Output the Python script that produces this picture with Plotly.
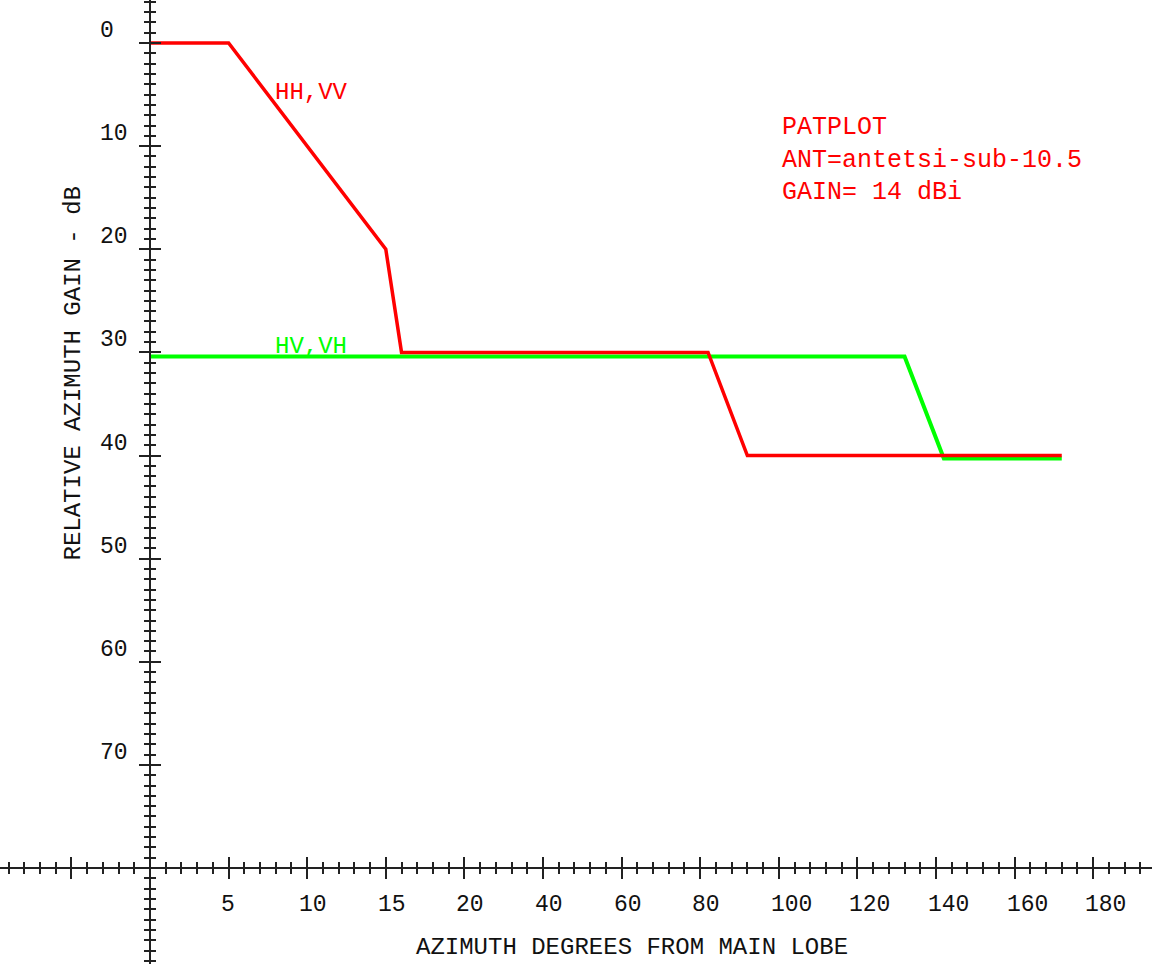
import plotly.graph_objects as go

# ---- data (degrees from main lobe, relative gain in dB) ----
hh_deg = [0, 5, 15, 16, 82, 92, 172]
hh_db = [0, 0, 20, 30, 30, 40, 40]
hv_deg = [0, 132, 142, 172]
hv_db = [30.4, 30.4, 40.3, 40.3]
x_tick_labels = [5, 10, 15, 20, 40, 60, 80, 100, 120, 140, 160, 180]
y_tick_labels = [0, 10, 20, 30, 40, 50, 60, 70]
info_lines = ["PATPLOT", "ANT=antetsi-sub-10.5", "GAIN= 14 dBi"]

W, H = 1152, 964
FONT = "Liberation Mono"
AX = "#222222"


def pos(deg):
    """Piecewise azimuth scale: 0-20 deg in steps of 5, then 20-180 in steps of 20."""
    return deg / 5.0 if deg <= 20 else 4 + (deg - 20) / 20.0


# pixel geometry of the reference
X0_PX, UNIT_PX = 150, 78.6
Y0_PX, DB_PX = 43, 10.3125
x_range = [-X0_PX / UNIT_PX, (W - X0_PX) / UNIT_PX]
y_range = [80 + (H - (Y0_PX + 80 * DB_PX)) / DB_PX, -Y0_PX / DB_PX]
x_axis_pos = (H - (Y0_PX + 80 * DB_PX)) / H
y_axis_pos = X0_PX / W

fig = go.Figure()
fig.add_trace(go.Scatter(x=[pos(d) for d in hv_deg], y=hv_db, mode="lines",
                         line=dict(color="#00ff00", width=4), name="HV,VH",
                         hoverinfo="skip"))
fig.add_trace(go.Scatter(x=[pos(d) for d in hh_deg], y=hh_db, mode="lines",
                         line=dict(color="#ff0000", width=3.5), name="HH,VV",
                         hoverinfo="skip"))
# empty trace so the overlay axes (inner half of the cross ticks) exist
fig.add_trace(go.Scatter(x=[], y=[], xaxis="x2", yaxis="y2", showlegend=False))

common_x = dict(range=x_range, showgrid=False, zeroline=False, showline=True,
                linecolor=AX, linewidth=2, tickmode="linear", tick0=0, dtick=1,
                ticklen=10, tickwidth=2, tickcolor=AX, showticklabels=False,
                anchor="free", position=x_axis_pos, domain=[0, 1])
common_y = dict(range=y_range, showgrid=False, zeroline=False, showline=True,
                linecolor=AX, linewidth=2, tickmode="linear", tick0=0, dtick=10,
                ticklen=10, tickwidth=2, tickcolor=AX, showticklabels=False,
                anchor="free", position=y_axis_pos, domain=[0, 1])

fig.update_layout(
    width=W, height=H,
    margin=dict(l=0, r=0, t=0, b=0),
    paper_bgcolor="white", plot_bgcolor="white",
    showlegend=False,
    xaxis=dict(**common_x, ticks="outside",
               minor=dict(ticks="outside", dtick=0.2, ticklen=5, tickwidth=2, tickcolor=AX)),
    xaxis2=dict(**common_x, ticks="inside", overlaying="x",
                minor=dict(ticks="inside", dtick=0.2, ticklen=5, tickwidth=2, tickcolor=AX)),
    yaxis=dict(**common_y, ticks="outside",
               minor=dict(ticks="outside", dtick=1, ticklen=5, tickwidth=2, tickcolor=AX)),
    yaxis2=dict(**common_y, ticks="inside", overlaying="y",
                minor=dict(ticks="inside", dtick=1, ticklen=5, tickwidth=2, tickcolor=AX)),
)

ann = []
for v in x_tick_labels:
    ann.append(dict(x=pos(v), y=80, xref="x", yref="y", text=str(v), showarrow=False,
                    xanchor="left", yanchor="middle", xshift=-10, yshift=-37,
                    font=dict(family=FONT, size=23, color="#111")))
for v in y_tick_labels:
    ann.append(dict(x=0, y=v, xref="x", yref="y", text=str(v), showarrow=False,
                    xanchor="left", yanchor="middle", xshift=-52, yshift=12,
                    font=dict(family=FONT, size=23, color="#111")))
ann.append(dict(x=632 / W, y=(H - 947) / H, xref="paper", yref="paper",
                text="AZIMUTH DEGREES FROM MAIN LOBE", showarrow=False,
                xanchor="center", yanchor="middle",
                font=dict(family=FONT, size=24, color="#111")))
ann.append(dict(x=73.5 / W, y=(H - 374) / H, xref="paper", yref="paper",
                text="RELATIVE AZIMUTH GAIN - dB", showarrow=False, textangle=-90,
                xanchor="center", yanchor="middle",
                font=dict(family=FONT, size=24, color="#111")))
ann.append(dict(x=780 / W, y=(H - 160) / H, xref="paper", yref="paper",
                text="<br>".join(info_lines), showarrow=False, align="left",
                xanchor="left", yanchor="middle",
                font=dict(family=FONT, size=25, color="#ff0000")))
ann.append(dict(x=pos(8), y=4.8, xref="x", yref="y", text="HH,VV", showarrow=False,
                xanchor="left", yanchor="middle", xshift=-3,
                font=dict(family=FONT, size=24, color="#ff0000")))
ann.append(dict(x=pos(8), y=29.4, xref="x", yref="y", text="HV,VH", showarrow=False,
                xanchor="left", yanchor="middle", xshift=-3,
                font=dict(family=FONT, size=24, color="#00ff00")))
fig.update_layout(annotations=ann)

fig.write_html("out.html")
